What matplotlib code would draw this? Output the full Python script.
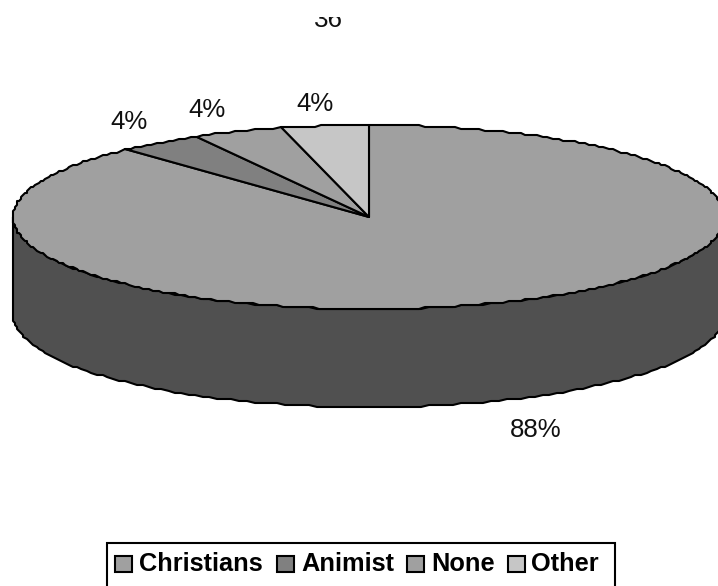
import matplotlib
matplotlib.use("Agg")
import matplotlib.patches as mpatches
import matplotlib.pyplot as plt
import numpy as np

plt.rcParams['font.family'] = ['Liberation Sans', 'DejaVu Sans']

categories = ["Christians", "Animist", "None", "Other"]
shares = [88, 4, 4, 4]
share_labels = ["88%", "4%", "4%", "4%"]
title = "36"
top_colors = ["#a0a0a0", "#808080", "#a0a0a0", "#c6c6c6"]
side_color = "#505050"

CX, CY = 369, 217
RX, RY = 356, 92
DEPTH = 98
GRID = 2.0  # outline gets snapped to this, gives the rough printed edge
LW = 1.5


def rim(t0, t1, n):
    t = np.radians(np.linspace(t0, t1, n))
    x = RX * np.sin(t)
    y = -RY * np.cos(t)
    return CX + np.round(x / GRID) * GRID, CY + np.round(y / GRID) * GRID


fig = plt.figure(figsize=(7.18, 5.86), dpi=100)
ax = fig.add_axes([0, 0, 1, 1])
ax.set_xlim(0, 718)
ax.set_ylim(586, 0)
ax.axis("off")

# side wall, front half of the disc only
x, y = rim(90, 270, 140)
wall = list(zip(x, y)) + list(zip(x[::-1], y[::-1] + DEPTH))
ax.add_patch(mpatches.Polygon(wall, closed=True, fc=side_color, ec="black", lw=LW, joinstyle="round"))

# top face, slices run clockwise from twelve o'clock
edges = np.cumsum([0] + shares) / sum(shares) * 360
for i, share in enumerate(shares):
    n = max(6, int(share * 3.6))
    x, y = rim(edges[i], edges[i + 1], n)
    verts = [(CX, CY)] + list(zip(x, y))
    ax.add_patch(mpatches.Polygon(verts, closed=True, fc=top_colors[i], ec="black", lw=LW, joinstyle="round"))

# percent labels
label_pos = [(536, 430), (129, 122), (207, 110), (315, 104)]
for s, (lx, ly) in zip(share_labels, label_pos):
    ax.text(lx, ly, s, fontsize=18.6, ha="center", va="center", color="#111111")

# title is cut off by the top of the chart area, a white band hides its upper part
ax.text(328, 27, title, fontsize=18.6, ha="center", va="baseline", color="#111111", zorder=3)
ax.add_patch(mpatches.Rectangle((0, 0), 718, 17, fc="white", ec="none", zorder=4))

# legend box, its lower edge runs past the bottom of the figure
ax.add_patch(mpatches.Rectangle((106.5, 542.5), 508, 60, fc="white", ec="black", lw=LW))
swatch_x = [115, 277, 407, 508]
text_x = [139, 301, 431, 531]
for name, color, sx, tx in zip(categories, top_colors, swatch_x, text_x):
    ax.add_patch(mpatches.Rectangle((sx, 556), 17, 16, fc=color, ec="black", lw=LW))
    ax.text(tx, 564, name, fontsize=18.3, fontweight="bold", ha="left", va="center", color="black")

fig.savefig("out.png", dpi=100)
